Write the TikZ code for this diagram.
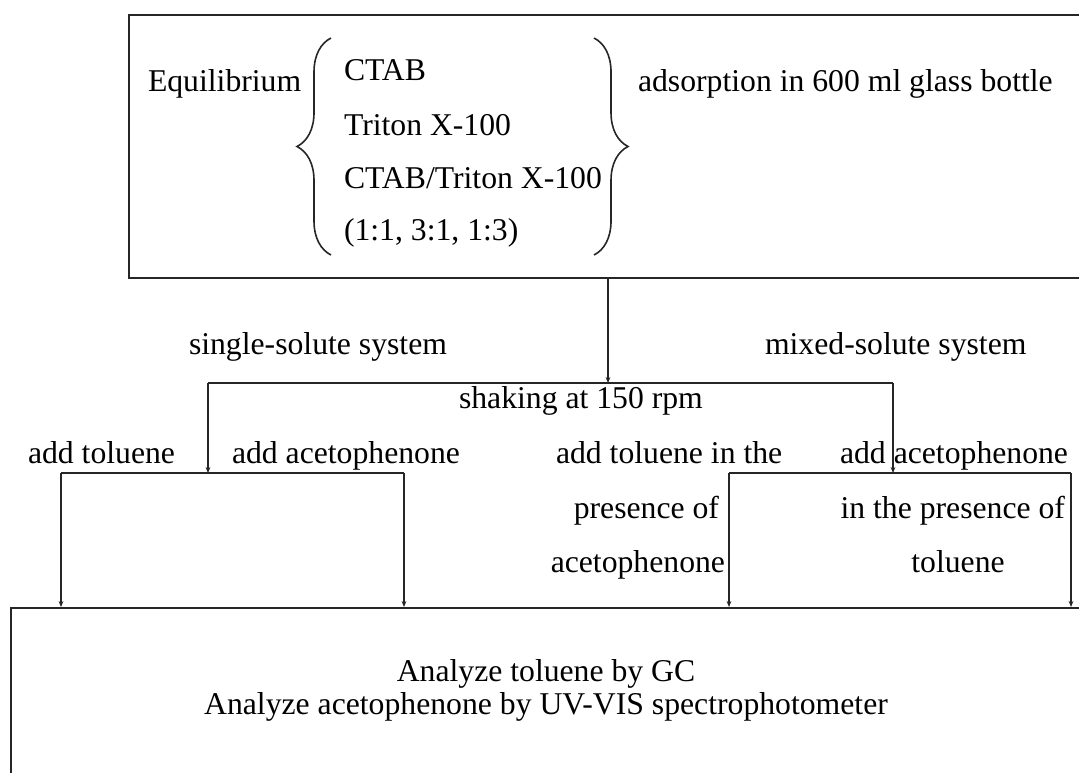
\documentclass[tikz,border=0pt]{standalone}
\usepackage{fontspec}
\setmainfont{Liberation Serif}
\usetikzlibrary{arrows.meta,decorations.pathreplacing}
\begin{document}
\begin{tikzpicture}[x=0.5pt,y=-0.5pt,
  line width=1pt,draw=black!85,
  flow box/.style={draw,rectangle,inner sep=0,anchor=north west},
  label text/.style={inner sep=0,font=\fontsize{15.85}{18}\selectfont},
  small arrow/.style={-{Stealth[length=3pt,width=2.4pt]}},
  big brace/.style={decorate,decoration={brace,amplitude=17pt},line width=0.8pt}]

  \useasboundingbox (0,0) rectangle (1079,772);

  % boxes (right and lower sides run off the page)
  \node[flow box,minimum width=500pt,minimum height=131.5pt] (equil) at (128,14){};
  \node[flow box,minimum width=560pt,minimum height=120pt] (analyze) at (10,607){};

  % texts of the top box
  \node[label text,anchor=base west] (eq) at (147,91){Equilibrium};
  \node[label text,anchor=base west] (ctab) at (343,80){CTAB};
  \node[label text,anchor=base west] (triton) at (343,135){Triton X-100};
  \node[label text,anchor=base west] (mix) at (343,188){CTAB/Triton X-100};
  \node[label text,anchor=base west] (ratio) at (343,240){(1:1, 3:1, 1:3)};
  \node[label text,anchor=base west] (ads) at (637,91){adsorption in 600 ml glass bottle};
  \draw[big brace] (331,255) -- (331,38);
  \draw[big brace] (594,38) -- (594,255);

  % branch labels
  \node[label text,anchor=base west] (single) at (188,354){single-solute system};
  \node[label text,anchor=base west] (mixed) at (764,354){mixed-solute system};
  \node[label text,anchor=base west] (shake) at (458,408){shaking at 150 rpm};
  \node[label text,anchor=base west] (tol) at (27,463){add toluene};
  \node[label text,anchor=base west] (aceto) at (231,463){add acetophenone};
  \node[label text,anchor=base west] (tolA) at (555,463){add toluene in the};
  \node[label text,anchor=base east] (tolB) at (720,518){presence of};
  \node[label text,anchor=base east] (tolC) at (726,572){acetophenone};
  \node[label text,anchor=base east] (acA) at (1069,463){add acetophenone};
  \node[label text,anchor=base east] (acB) at (1066,518){in the presence of};
  \node[label text,anchor=base] (acC) at (958,572){toluene};
  \node[label text,anchor=base] (gc) at (546,681){Analyze toluene by GC};
  \node[label text,anchor=base] (uv) at (546,714){Analyze acetophenone by UV-VIS spectrophotometer};

  % branching points
  \coordinate (s0) at (608,383);
  \coordinate (s1) at (208,383);
  \coordinate (s2) at (893,383);
  \coordinate (l0) at (208,473);
  \coordinate (l1) at (61,473);
  \coordinate (l2) at (404,473);
  \coordinate (r0) at (893,473);
  \coordinate (r1) at (729,473);
  \coordinate (r2) at (1071,473);

  \draw (s1) -- (s2);
  \draw (l1) -- (l2);
  \draw (r1) -- (r2);

  \path[small arrow]
    (equil.south -| s0) edge (s0)
    (s1) edge (l0)
    (s2) edge (r0)
    (l1) edge (analyze.north -| l1)
    (l2) edge (analyze.north -| l2)
    (r1) edge (analyze.north -| r1)
    (r2) edge (analyze.north -| r2);
\end{tikzpicture}
\end{document}
